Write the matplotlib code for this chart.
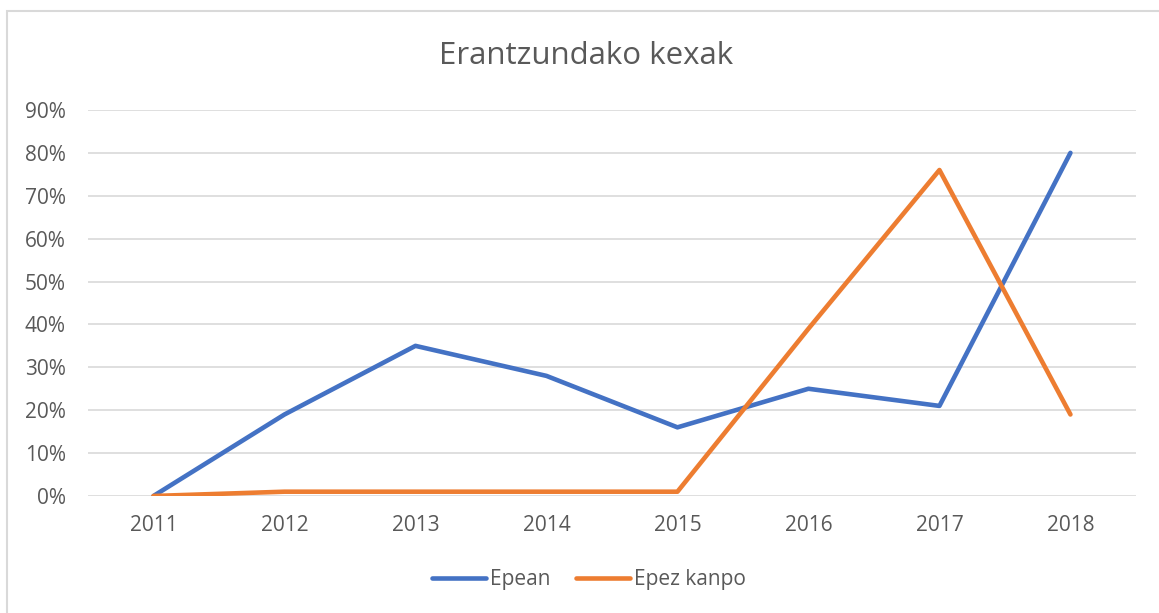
import matplotlib.pyplot as plt
from matplotlib.patches import Rectangle
from matplotlib.ticker import PercentFormatter

years = ['2011', '2012', '2013', '2014', '2015', '2016', '2017', '2018']
epean = [0.0, 0.19, 0.35, 0.28, 0.16, 0.25, 0.21, 0.80]
epez_kanpo = [0.0, 0.01, 0.01, 0.01, 0.01, 0.39, 0.76, 0.19]

plt.rcParams['font.family'] = ['Open Sans', 'DejaVu Sans']
txt = '#595959'
grid = '#D9D9D9'

fig = plt.figure(figsize=(11.59, 6.13), dpi=100)
ax = fig.add_axes([0.0759, 0.1909, 0.9042, 0.6297])

x = range(len(years))
ax.plot(x, epean, color='#4472C4', lw=3.3, solid_capstyle='round', solid_joinstyle='round', label='Epean')
ax.plot(x, epez_kanpo, color='#ED7D31', lw=3.3, solid_capstyle='round', solid_joinstyle='round', label='Epez kanpo')

ax.set_xlim(-0.5, len(years) - 0.5)
ax.set_ylim(0, 0.9)
ax.set_yticks([i / 10 for i in range(10)])
ax.yaxis.set_major_formatter(PercentFormatter(1.0, decimals=0))
ax.set_xticks(list(x))
ax.set_xticklabels(years)
ax.grid(axis='y', color=grid, lw=1.2)
ax.set_axisbelow(True)
for s in ax.spines.values():
    s.set_visible(False)
ax.tick_params(length=0, labelsize=15, labelcolor=txt)
ax.tick_params(axis='y', pad=16)
ax.tick_params(axis='x', pad=14)

fig.text(0.506, 1 - 56 / 613, 'Erantzundako kexak', ha='center', va='center', fontsize=22.5, color=txt)

fig.legend(loc='center', bbox_to_anchor=(0.508, 1 - 580 / 613), ncol=2, frameon=False,
           fontsize=15, labelcolor=txt, handlelength=2.6, handletextpad=0.2, columnspacing=1.2)

fig.add_artist(Rectangle((7 / 1159, -0.1), 1.1, 1.1 - 11 / 613, transform=fig.transFigure,
                         fill=False, edgecolor=grid, lw=1.5))

fig.savefig('out.png', dpi=100)
